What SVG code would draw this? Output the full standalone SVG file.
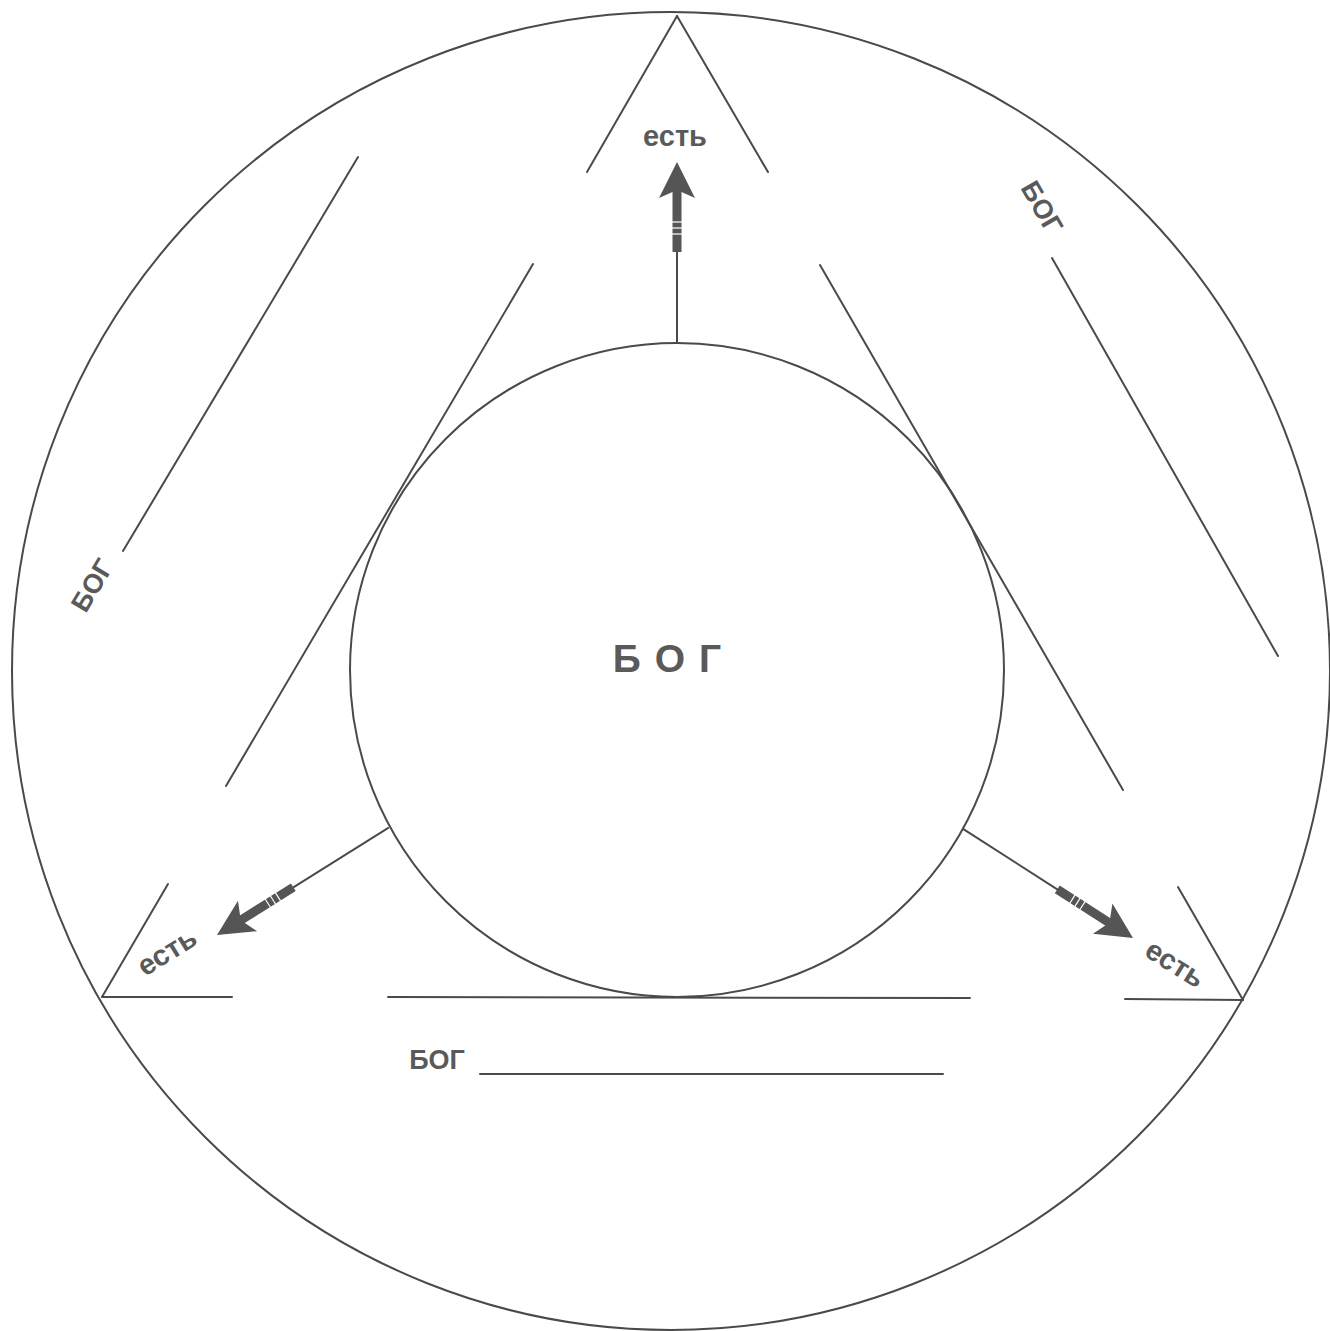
<svg xmlns="http://www.w3.org/2000/svg" width="1330" height="1331" viewBox="0 0 1330 1331">
<defs>
<style>
.ln{stroke:#4a4a4a;stroke-width:2;fill:none;stroke-linecap:round}
.tx{font-family:"Liberation Sans",Arial,sans-serif;font-weight:bold;fill:#5a5a5a}
.ar{fill:#555}
.tick{stroke:#fff;stroke-width:1.2}
</style>
<g id="arrowhead">
<rect x="-90" y="-4.5" width="64" height="9" class="ar"/>
<polygon points="0,0 -36,-18 -28,0 -36,18" class="ar"/>
<line x1="-60" y1="-5" x2="-60" y2="5" class="tick"/>
<line x1="-66" y1="-5" x2="-66" y2="5" class="tick"/>
<line x1="-72" y1="-5" x2="-72" y2="5" class="tick"/>
</g>
</defs>
<rect width="1330" height="1331" fill="#fff"/>
<g id="outer-circle"><circle cx="671" cy="671" r="659" class="ln"/></g>
<g id="triangle">
<line x1="677" y1="16" x2="587" y2="172" class="ln"/>
<line x1="533" y1="264" x2="226" y2="786" class="ln"/>
<line x1="168" y1="884" x2="102" y2="997" class="ln"/>
<line x1="677" y1="16" x2="768" y2="172" class="ln"/>
<line x1="820" y1="265" x2="1123" y2="790" class="ln"/>
<line x1="1178" y1="887" x2="1243" y2="1000" class="ln"/>
<line x1="102" y1="997" x2="232" y2="997" class="ln"/>
<line x1="388" y1="997" x2="970" y2="998" class="ln"/>
<line x1="1125" y1="999" x2="1243" y2="1000" class="ln"/>
</g>
<g id="inner-circle"><circle cx="677" cy="670" r="327" class="ln"/>
<text x="674" y="672" class="tx" font-size="39" text-anchor="middle" letter-spacing="14">БОГ</text></g>
<g id="connectors">
<g transform="translate(677,162) rotate(-90)"><line x1="-181" y1="0" x2="-90" y2="0" class="ln"/><use href="#arrowhead"/></g>
<g transform="translate(217,935) rotate(148)"><line x1="-202" y1="0" x2="-90" y2="0" class="ln"/><use href="#arrowhead"/></g>
<g transform="translate(1133,938) rotate(32.7)"><line x1="-202" y1="0" x2="-90" y2="0" class="ln"/><use href="#arrowhead"/></g>
</g>
<g id="label-top"><text x="675" y="146" class="tx" font-size="29" text-anchor="middle">есть</text></g>
<g id="label-bl"><text transform="translate(172,960) rotate(-32)" class="tx" font-size="29" text-anchor="middle">есть</text></g>
<g id="label-br"><text transform="translate(1170,972) rotate(32)" class="tx" font-size="29" text-anchor="middle">есть</text></g>
<g id="god-left">
<text transform="translate(100,590) rotate(-59)" class="tx" font-size="27" text-anchor="middle">БОГ</text>
<line x1="123" y1="551" x2="358" y2="157" class="ln" stroke-width="1.5"/>
</g>
<g id="god-right">
<text transform="translate(1034,212) rotate(60)" class="tx" font-size="27" text-anchor="middle">БОГ</text>
<line x1="1052" y1="258" x2="1278" y2="656" class="ln" stroke-width="1.5"/>
</g>
<g id="god-bottom">
<text x="437" y="1069" class="tx" font-size="27" text-anchor="middle">БОГ</text>
<line x1="480" y1="1074" x2="943" y2="1074" class="ln" stroke-width="1.5"/>
</g>
</svg>
